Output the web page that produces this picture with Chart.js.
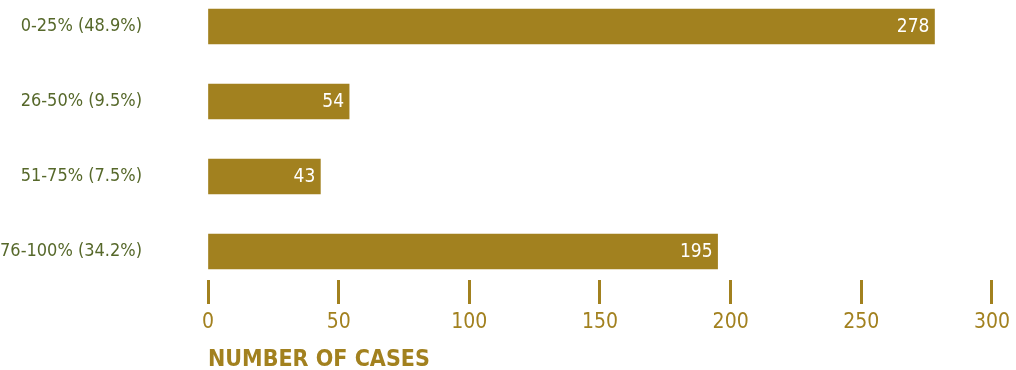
<!DOCTYPE html>
<html>
<head>
<meta charset="utf-8">
<script src="https://cdn.jsdelivr.net/npm/chart.js@4"></script>
<style>
  html, body { margin: 0; padding: 0; background: #fff; }
  #wrap { width: 1016px; height: 370px; position: relative; }
</style>
</head>
<body>
<div id="wrap"><canvas id="caseChart"></canvas></div>
<script>
// data
const categories = ['0-25% (48.9%)', '26-50% (9.5%)', '51-75% (7.5%)', '76-100% (34.2%)'];
const caseCounts = [278, 54, 43, 195];
const xMin = 0, xMax = 300, xStep = 50;

const gold = '#A2811F';
const olive = '#56682A';
const fam = "'DejaVu Sans Condensed', 'DejaVu Sans', sans-serif";
Chart.defaults.font.family = fam;

// value text inside the end of each bar
const valueLabels = {
  id: 'valueLabels',
  afterDatasetsDraw(chart) {
    const ctx = chart.ctx;
    const meta = chart.getDatasetMeta(0);
    ctx.save();
    ctx.fillStyle = '#ffffff';
    ctx.font = 'condensed 19px ' + fam;
    ctx.textAlign = 'right';
    ctx.textBaseline = 'middle';
    meta.data.forEach((bar, i) => {
      ctx.fillText(String(caseCounts[i]), bar.x - 5, bar.y + 1);
    });
    ctx.restore();
  }
};

new Chart(document.getElementById('caseChart'), {
  type: 'bar',
  data: {
    datasets: [{
      data: caseCounts.map((v, i) => ({ x: v, y: i })),
      backgroundColor: gold,
      borderWidth: 0,
      barThickness: 35
    }]
  },
  options: {
    indexAxis: 'y',
    responsive: true,
    maintainAspectRatio: false,
    animation: false,
    layout: { padding: { top: 0, left: 0, right: 21, bottom: 0 } },
    plugins: { legend: { display: false }, tooltip: { enabled: false } },
    scales: {
      y: {
        type: 'linear',
        offset: false,
        reverse: true,
        min: -0.353,
        max: 3.38,
        grid: { display: false, drawTicks: false },
        border: { display: false },
        afterFit(scale) {
          scale.width = 208;
          scale.paddingTop = 0;
          scale.paddingBottom = 0;
        },
        ticks: {
          stepSize: 1,
          includeBounds: false,
          padding: 66,
          color: olive,
          font: { size: 18, weight: 'condensed' },
          callback: v => categories[v]
        }
      },
      x: {
        min: xMin,
        max: xMax,
        border: { display: false },
        afterFit(scale) { scale.height = 90; },
        grid: {
          drawOnChartArea: false,
          drawTicks: true,
          tickLength: 24,
          tickWidth: 3,
          tickColor: gold
        },
        ticks: {
          stepSize: xStep,
          padding: 6,
          color: gold,
          font: { size: 21, weight: 'condensed' }
        },
        title: {
          display: true,
          text: 'NUMBER OF CASES',
          align: 'start',
          color: gold,
          font: { size: 23, weight: 'bold condensed', lineHeight: 1 },
          padding: { top: 0, bottom: -2 }
        }
      }
    }
  },
  plugins: [valueLabels]
});
</script>
</body>
</html>
